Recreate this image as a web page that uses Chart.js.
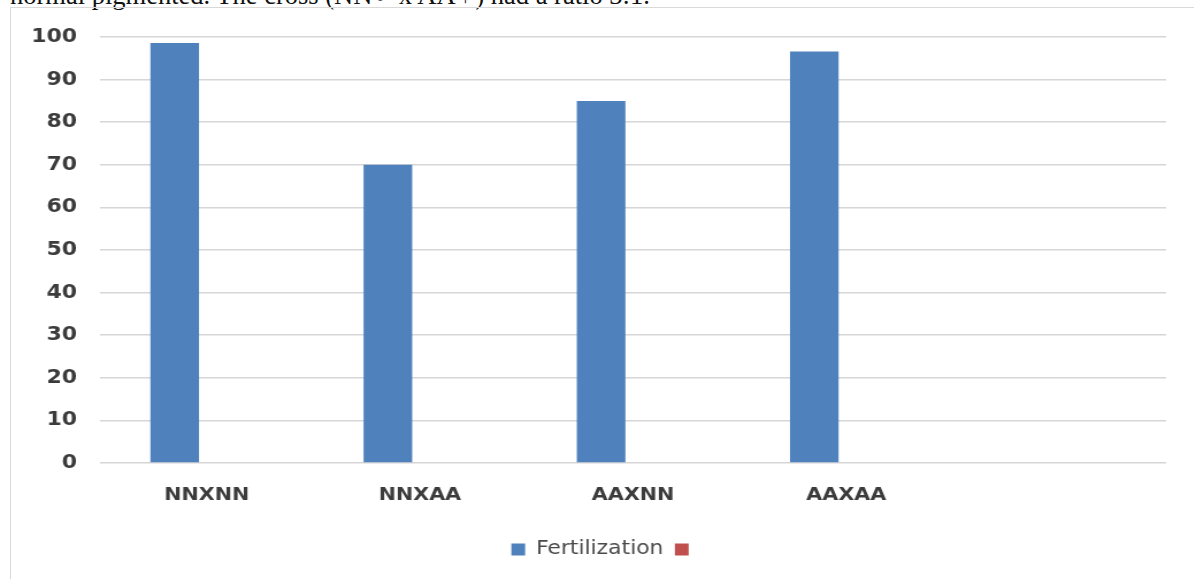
<!DOCTYPE html>
<html>
<head>
<meta charset="utf-8">
<script src="https://cdn.jsdelivr.net/npm/chart.js@4/dist/chart.umd.min.js"></script>
<style>
  html, body { margin: 0; padding: 0; background: #fff; overflow: hidden; width: 1194px; height: 579px; }
  #lead { position: absolute; left: 10px; top: -18.5px; font: 26.5px/1 'Liberation Serif', 'Times New Roman', serif; color: #111; white-space: nowrap; }
  #frame { position: absolute; left: 10px; top: 7px; width: 1220px; height: 620px; border: 1px solid #d9d9d9; }
  /* the chart is laid out narrow and widened horizontally, as in the pasted figure */
  #wrap { position: absolute; left: 0; top: 0; width: 1038px; height: 579px; transform: scaleX(1.15); transform-origin: 0 0; }
</style>
</head>
<body>
<div id="lead">normal pigmented. The cross (NN♂ x AA♀) had a ratio 3:1.</div>
<div id="frame"></div>
<div id="wrap"><canvas id="chart"></canvas></div>
<script>
// crosses (male x female) and the fertilization percentage of each
const crosses = ['NNXNN', 'NNXAA', 'AAXNN', 'AAXAA', ''];
const fertilization = [98.6, 70, 85, 96.6, null];
// second (empty) series that only shows up in the legend
const secondSeries = [null, null, null, null, null];
const yTickValues = [0, 10, 20, 30, 40, 50, 60, 70, 80, 90, 100];

const yFont = { family: "'DejaVu Sans', sans-serif", size: 19, weight: 'bold' };
const xFont = { family: "'DejaVu Sans', sans-serif", size: 18, weight: 'bold' };

// nudge the legend row a little to the right of the canvas centre
const legendNudge = {
  id: 'legendNudge',
  afterLayout(chart) {
    if (chart.legend) { chart.legend.left += 19.5; chart.legend.right += 19.5; }
  }
};

new Chart(document.getElementById('chart'), {
  type: 'bar',
  data: {
    labels: crosses,
    datasets: [
      { label: 'Fertilization', data: fertilization, backgroundColor: '#4f81bd', borderWidth: 0 },
      { label: '', data: secondSeries, backgroundColor: '#c0504d', borderWidth: 0 }
    ]
  },
  plugins: [legendNudge],
  options: {
    responsive: true,
    maintainAspectRatio: false,
    animation: false,
    datasets: { bar: { categoryPercentage: 0.6, barPercentage: 0.76 } },
    layout: { padding: { top: 37, right: 24, bottom: 10, left: 0 } },
    scales: {
      x: {
        grid: { display: false },
        border: { display: false },
        ticks: { color: '#3b3b3b', font: xFont, padding: 14, maxRotation: 0 },
        afterFit: (s) => { s.height = 67; }
      },
      y: {
        min: 0,
        max: 100,
        grid: { color: '#d6d6d6', lineWidth: 1.6, drawTicks: false },
        border: { display: false },
        ticks: { color: '#3b3b3b', font: yFont, padding: 20 },
        afterBuildTicks: (s) => { s.ticks = yTickValues.map(v => ({ value: v })); },
        afterFit: (s) => { s.width = 87; }
      }
    },
    plugins: {
      legend: {
        position: 'bottom',
        labels: {
          boxWidth: 12,
          boxHeight: 12,
          padding: 10,
          color: '#4a4a4a',
          font: { family: "'DejaVu Sans', sans-serif", size: 19 }
        }
      },
      tooltip: { enabled: false }
    }
  }
});
</script>
</body>
</html>
